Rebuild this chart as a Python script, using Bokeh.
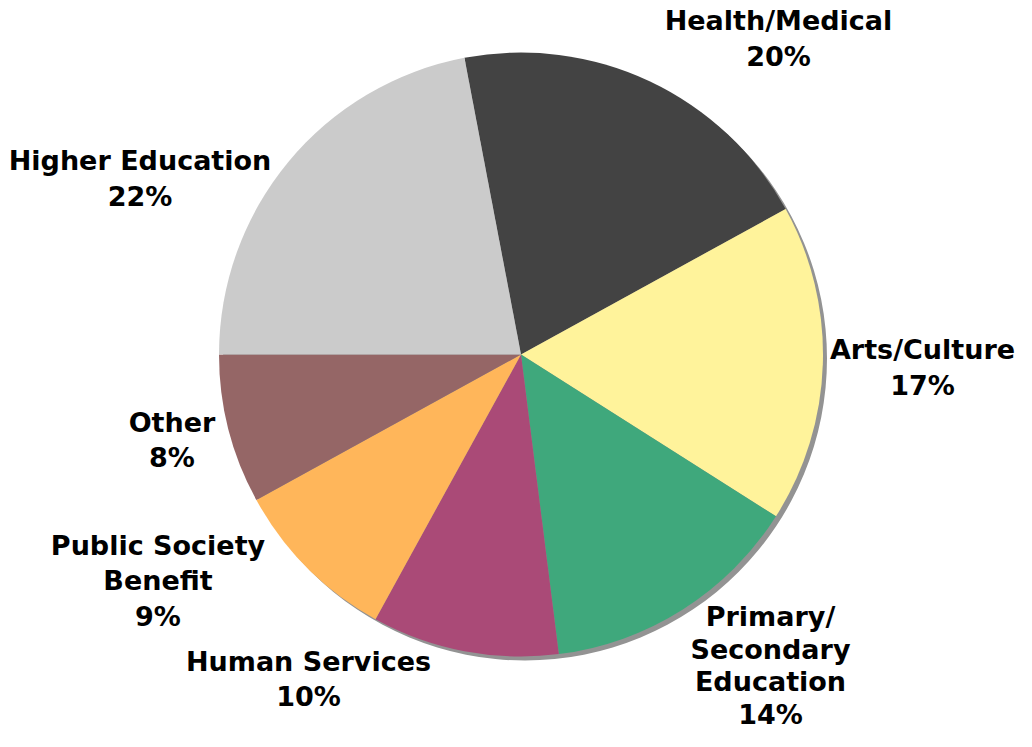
import math
from bokeh.plotting import figure
from bokeh.models import ColumnDataSource
from bokeh.core.properties import value
from bokeh.embed import file_html
from bokeh.resources import INLINE

# ---- data ----
categories = ["Health/Medical", "Arts/Culture", "Primary/\nSecondary\nEducation",
              "Human Services", "Public Society\nBenefit", "Other", "Higher Education"]
shares = [20, 17, 14, 10, 9, 8, 22]
colors = ["#434343", "#FFF39B", "#3FA87C", "#AA4A77", "#FFB65A", "#956666", "#CBCBCB"]

# ---- layout ----
W, H = 1016, 731
cx, cy, r = 520.5, 377, 302
start_deg = 349.2  # clockwise from 12 o'clock
label_pos = [(778, 693), (922, 364), (770, 66), (308, 52.5), (157.5, 150.5), (171.5, 291.5), (139.5, 553)]
tight = [False, False, True, False, False, False, False]

total = float(sum(shares))
starts, ends = [], []
acc = start_deg
for s in shares:
    a0 = acc
    a1 = acc + 360.0 * s / total
    starts.append(math.radians(90 - a0))
    ends.append(math.radians(90 - a1))
    acc = a1

src = ColumnDataSource(dict(start=starts, end=ends, color=colors))

p = figure(width=W, height=H, x_range=(0, W), y_range=(0, H),
           output_backend="svg", toolbar_location=None, min_border=0)
p.axis.visible = False
p.grid.visible = False
p.outline_line_color = None
p.background_fill_color = "white"

# shadow
p.circle(x=[cx + 4], y=[cy - 4], radius=r, fill_color="#939393", line_color=None)

p.wedge(x=cx, y=cy, radius=r, start_angle="start", end_angle="end", direction="clock",
        fill_color="color", line_color=None, source=src)

labels = [f"{c}\n{s}%" for c, s in zip(categories, shares)]
for flag, lh in ((False, 1.13), (True, 1.05)):
    idx = [i for i, t in enumerate(tight) if t == flag]
    lsrc = ColumnDataSource(dict(x=[label_pos[i][0] for i in idx],
                                 y=[label_pos[i][1] for i in idx],
                                 text=[labels[i] for i in idx]))
    p.text(x="x", y="y", text="text", source=lsrc, text_align="center", text_baseline="middle",
           text_font=value("DejaVu Sans"), text_font_style="bold", text_font_size="27px",
           text_color="black", text_line_height=lh)

open("out.html", "w").write(file_html(p, INLINE))
